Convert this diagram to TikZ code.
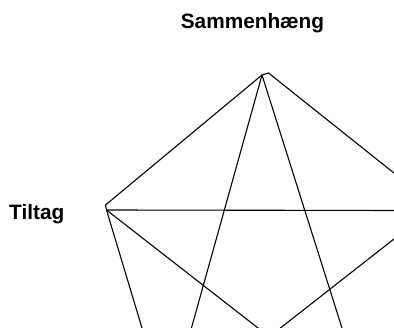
\documentclass[tikz,border=0pt]{standalone}
\usepackage{fontspec}
\setmainfont{Liberation Sans}
\begin{document}
\begin{tikzpicture}[x=1pt,y=-1pt,
  lbl/.style={inner sep=0pt,font=\fontsize{20.8}{24}\selectfont\bfseries},
  edge/.style={line width=1.1pt,draw=black}]
\useasboundingbox (0,0) rectangle (394,328);
\fill[white] (0,0) rectangle (394,328);
\node[lbl,anchor=base] (top) at (252.5,28.3) {Sammenhæng};
\node[lbl,anchor=base west] (left) at (9.0,219.3) {Tiltag};
% vertices and off-picture ends
\coordinate (T1) at (262,75);
\coordinate (T2) at (268.5,73);
\coordinate (L1) at (105.5,205);
\coordinate (L2) at (106.5,210);
\coordinate (R1) at (400,177.8);
\coordinate (R2) at (400,210.5);
\coordinate (R3) at (400,234.3);
\coordinate (B1) at (144.1,335);
\coordinate (B2) at (189.5,335);
\coordinate (B3) at (267,335);
\coordinate (B4) at (271.5,335);
\coordinate (B5) at (344.2,335);
\begin{scope}
\clip (0,0) rectangle (394,328);
\draw[edge] (L2) -- (L1) -- (T1) -- (T2) -- (R1);
\draw[edge] (L2) -- (R2);
\draw[edge] (L2) -- (B1);
\draw[edge] (L2) -- (B3);
\draw[edge] (T1) -- (B2);
\draw[edge] (T1) -- (B5);
\draw[edge] (R3) -- (B4);
\end{scope}
\end{tikzpicture}
\end{document}
